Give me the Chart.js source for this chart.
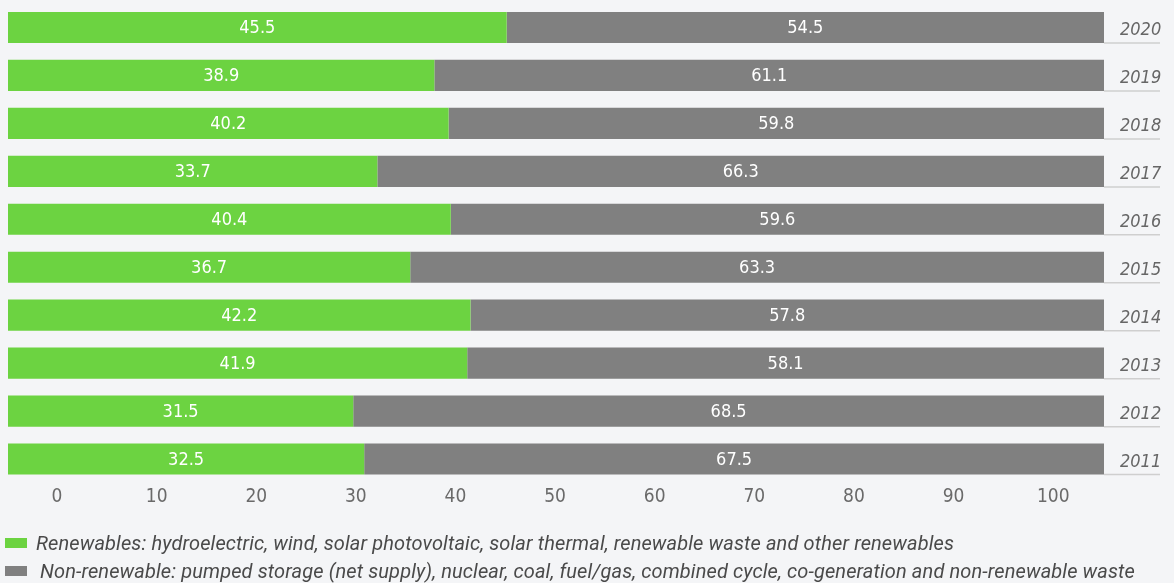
<!DOCTYPE html>
<html>
<head>
<meta charset="utf-8">
<script src="https://cdn.jsdelivr.net/npm/chart.js@4"></script>
<style>
  html, body { margin: 0; padding: 0; background: #f4f5f7; }
  #wrap { position: relative; width: 1174px; height: 583px; }
  #legend { position: absolute; left: 5px; top: 529px; font-family: Roboto, sans-serif; font-style: italic; font-size: 20px; color: #4a4a4a; line-height: 28px; letter-spacing: 0.12px; }
  #legend div { display: flex; align-items: center; white-space: nowrap; }
  #legend span.box { display: inline-block; width: 22px; height: 10px; margin-right: 9px; }
  #legend div + div span.box { margin-right: 13px; }
</style>
</head>
<body>
<div id="wrap">
  <canvas id="myChart" width="1174" height="583"></canvas>
  <div id="legend"></div>
</div>
<script>
const years = ['2020', '2019', '2018', '2017', '2016', '2015', '2014', '2013', '2012', '2011'];
const renewables = [45.5, 38.9, 40.2, 33.7, 40.4, 36.7, 42.2, 41.9, 31.5, 32.5];
const nonRenewables = [54.5, 61.1, 59.8, 66.3, 59.6, 63.3, 57.8, 58.1, 68.5, 67.5];
const xTicks = [0, 10, 20, 30, 40, 50, 60, 70, 80, 90, 100];
const seriesNames = [
  'Renewables: hydroelectric, wind, solar photovoltaic, solar thermal, renewable waste and other renewables',
  'Non-renewable: pumped storage (net supply), nuclear, coal, fuel/gas, combined cycle, co-generation and non-renewable waste'
];
const colors = ['#6cd341', '#808080'];

const narrow = '"Liberation Sans Narrow", "DejaVu Sans Condensed", sans-serif';

// values inside bars + underline next to year labels
const barLabels = {
  id: 'barLabels',
  afterDatasetsDraw(chart) {
    const ctx = chart.ctx;
    ctx.save();
    ctx.font = '18px ' + narrow;
    ctx.fillStyle = '#ffffff';
    ctx.textAlign = 'center';
    ctx.textBaseline = 'middle';
    chart.data.datasets.forEach((ds, i) => {
      chart.getDatasetMeta(i).data.forEach((bar, j) => {
        ctx.fillText(ds.data[j].toFixed(1), (bar.x + bar.base) / 2, bar.y + 1);
      });
    });
    const meta = chart.getDatasetMeta(1);
    ctx.strokeStyle = '#cfcfcf';
    ctx.lineWidth = 1.5;
    meta.data.forEach(bar => {
      const yb = bar.y + bar.height / 2;
      ctx.beginPath();
      ctx.moveTo(chart.chartArea.right, yb);
      ctx.lineTo(chart.chartArea.right + 56, yb);
      ctx.stroke();
    });
    ctx.restore();
  }
};

new Chart(document.getElementById('myChart'), {
  type: 'bar',
  data: {
    labels: years,
    datasets: [
      { label: seriesNames[0], data: renewables, backgroundColor: colors[0] },
      { label: seriesNames[1], data: nonRenewables, backgroundColor: colors[1] }
    ]
  },
  options: {
    indexAxis: 'y',
    responsive: false,
    animation: false,
    barPercentage: 0.65,
    categoryPercentage: 1,
    layout: { padding: { top: 3.5, left: 8, right: 0, bottom: 70 } },
    plugins: { legend: { display: false }, tooltip: { enabled: false } },
    scales: {
      x: { stacked: true, min: 0, max: 100, display: false },
      x2: {
        type: 'linear',
        position: 'bottom',
        min: -4.92,
        max: 105.1,
        grid: { display: false, drawTicks: false },
        border: { display: false },
        afterBuildTicks: s => { s.ticks = xTicks.map(v => ({ value: v })); },
        afterFit: s => { s.height = 30; },
        ticks: { padding: 3, color: '#6a6a6a', font: { family: narrow, size: 19 } }
      },
      y: {
        stacked: true,
        position: 'right',
        grid: { display: true, color: 'rgba(0,0,0,0)', drawOnChartArea: false, drawTicks: true, tickLength: 16 },
        border: { display: false },
        afterFit: s => { s.width = 70; },
        ticks: { padding: 0, labelOffset: 3, color: '#666666', font: { family: narrow, size: 18, style: 'italic', lineHeight: 0.3 } }
      }
    }
  },
  plugins: [barLabels]
});

document.getElementById('legend').innerHTML = seriesNames.map((n, i) =>
  '<div><span class="box" style="background:' + colors[i] + '"></span>' + n + '</div>').join('');
</script>
</body>
</html>
